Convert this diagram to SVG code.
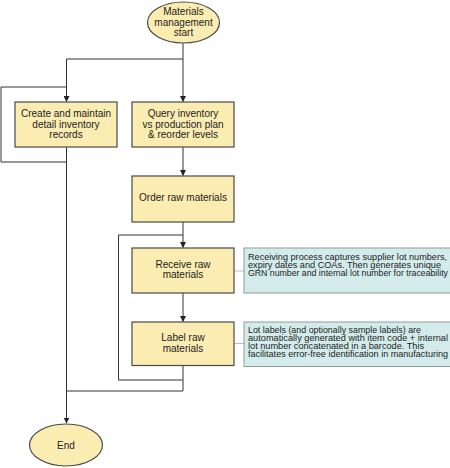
<svg xmlns="http://www.w3.org/2000/svg" width="450" height="468" viewBox="0 0 450 468">
<style>
.node{fill:#FBEDB2;stroke:#4a4a4a;stroke-width:1.2}
.note{fill:#D3ECEB;stroke:#8c9c9c;stroke-width:1}
.t{font-family:"Liberation Sans",Arial,sans-serif;font-size:10px;fill:#222;text-anchor:middle}
.n{font-family:"Liberation Sans",Arial,sans-serif;font-size:9px;fill:#222}
.c{fill:none;stroke:#333;stroke-width:1}
.g{fill:none;stroke:#aab;stroke-width:0.8}
</style>
<defs>
<marker id="ah" markerWidth="6" markerHeight="6" refX="5.5" refY="3" orient="auto" markerUnits="userSpaceOnUse">
<path d="M0,0 L6,3 L0,6 Z" fill="#222"/>
</marker>
</defs>
<rect width="450" height="468" fill="#fff"/>
<g id="connectors">
<path class="c" d="M183,43 V59 H66.5 V101.5" marker-end="url(#ah)"/>
<path class="c" d="M183,59 V101.5" marker-end="url(#ah)"/>
<path class="c" d="M66.5,87 H1 V162 H66.5"/>
<path class="c" d="M66.5,147 V423" marker-end="url(#ah)"/>
<path class="c" d="M183,147 V175.5" marker-end="url(#ah)"/>
<path class="c" d="M183,222 V247.5" marker-end="url(#ah)"/>
<path class="c" d="M183,293 V321.5" marker-end="url(#ah)"/>
<path class="c" d="M183,235 H118.5 V380 H183"/>
<path class="c" d="M183,365 V391 H66.5"/>
<path class="g" d="M234,271 H244"/>
<path class="g" d="M234,343.5 H244"/>
</g>
<g id="start">
<ellipse class="node" cx="183.5" cy="22.5" rx="36" ry="20.5"/>
<text class="t" x="183.5" y="15.3">Materials</text>
<text class="t" x="183.5" y="25.7">management</text>
<text class="t" x="183.5" y="36">start</text>
</g>
<g id="create">
<rect class="node" x="15" y="102" width="102" height="45"/>
<text class="t" x="66" y="117">Create and maintain</text>
<text class="t" x="66" y="127.6">detail inventory</text>
<text class="t" x="66" y="138.2">records</text>
</g>
<g id="query">
<rect class="node" x="132" y="102" width="102" height="45"/>
<text class="t" x="183" y="117">Query inventory</text>
<text class="t" x="183" y="127.6">vs production plan</text>
<text class="t" x="183" y="138.2">&amp; reorder levels</text>
</g>
<g id="order">
<rect class="node" x="132" y="176" width="102" height="46"/>
<text class="t" x="183" y="200.5">Order raw materials</text>
</g>
<g id="receive">
<rect class="node" x="132" y="248" width="102" height="45"/>
<text class="t" x="183" y="268">Receive raw</text>
<text class="t" x="183" y="277.8">materials</text>
</g>
<g id="label">
<rect class="node" x="132" y="322" width="102" height="43.5"/>
<text class="t" x="183" y="341">Label raw</text>
<text class="t" x="183" y="351.8">materials</text>
</g>
<g id="end">
<ellipse class="node" cx="66" cy="445" rx="36.5" ry="21"/>
<text class="t" x="66" y="448.5">End</text>
</g>
<g id="note-receive">
<rect class="note" x="244" y="248" width="210" height="45"/>
<text class="n" x="248" y="260" textLength="199" lengthAdjust="spacingAndGlyphs">Receiving process captures supplier lot numbers,</text>
<text class="n" x="248" y="268.2" textLength="193" lengthAdjust="spacingAndGlyphs">expiry dates and COAs. Then generates unique</text>
<text class="n" x="248" y="276.4" textLength="200" lengthAdjust="spacingAndGlyphs">GRN number and internal lot number for traceability</text>
</g>
<g id="note-label">
<rect class="note" x="244" y="322" width="210" height="44.5"/>
<text class="n" x="248" y="333" textLength="173" lengthAdjust="spacingAndGlyphs">Lot labels (and optionally sample labels) are</text>
<text class="n" x="248" y="341" textLength="200" lengthAdjust="spacingAndGlyphs">automatically generated with item code + internal</text>
<text class="n" x="248" y="349" textLength="176" lengthAdjust="spacingAndGlyphs">lot number concatenated in a barcode. This</text>
<text class="n" x="248" y="357" textLength="200" lengthAdjust="spacingAndGlyphs">facilitates error-free identification in manufacturing</text>
</g>
</svg>
